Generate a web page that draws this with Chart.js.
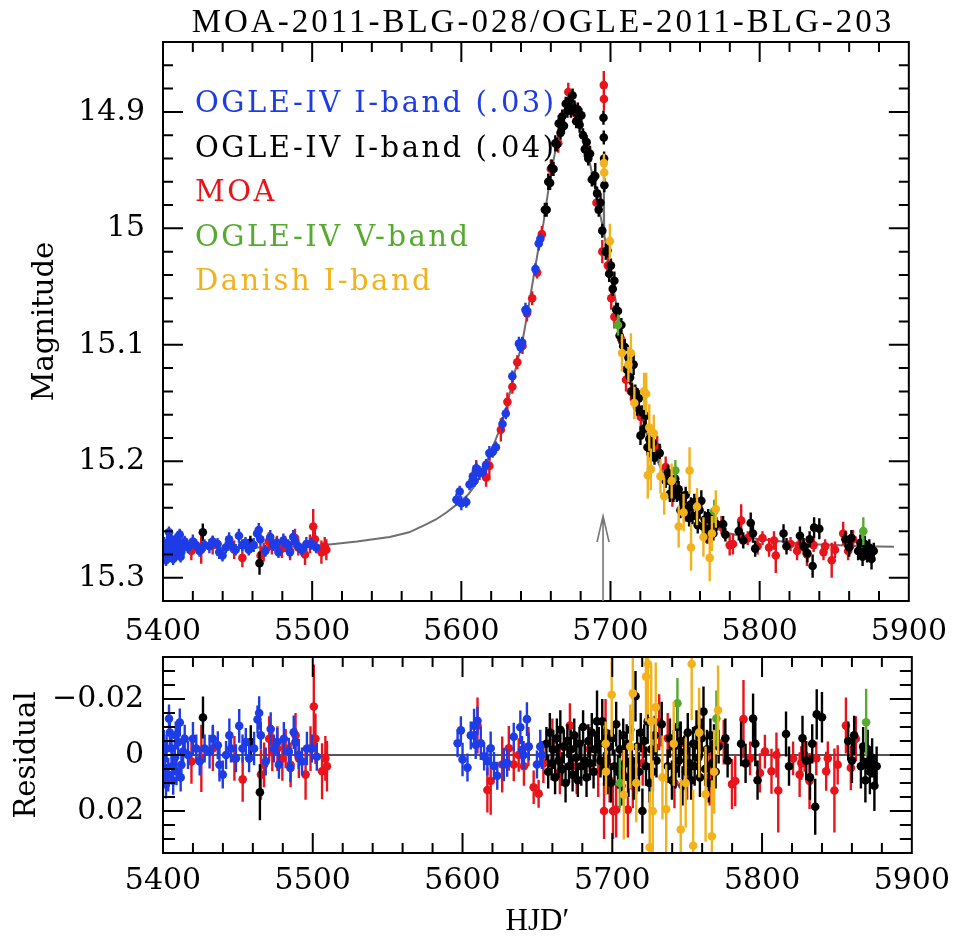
<!DOCTYPE html>
<html lang="en">
<head>
    <meta charset="UTF-8">
    <title>MOA-2011-BLG-028/OGLE-2011-BLG-203</title>
    <style>
        body {
            margin: 0;
            background: #fff;
        }

        .wrap {
            position: relative;
            width: 960px;
            height: 937px;
        }

        #lcChart { position: absolute; left: 0; top: 0; }
        #resChart { position: absolute; left: 0; top: 620px; }
    </style>
</head>
<body>
    <div class="wrap">
        <canvas id="lcChart" width="960" height="648"></canvas>
        <canvas id="resChart" width="960" height="317"></canvas>
    </div>

    <script src="https://cdn.jsdelivr.net/npm/chart.js"></script>
    <script>
        // rows: [HJD', magnitude, error, residual]
        const ogleI03 = [
            [5400.6, 15.270, 0.005, -0.0040], [5401.3, 15.279, 0.006, 0.0046], [5402.0, 15.285, 0.005, 0.0105],
            [5402.4, 15.272, 0.005, -0.0023], [5403.5, 15.281, 0.006, 0.0070], [5404.0, 15.261, 0.005, -0.0130],
            [5404.6, 15.266, 0.005, -0.0080], [5405.7, 15.272, 0.006, -0.0023], [5406.2, 15.278, 0.005, 0.0040],
            [5406.8, 15.284, 0.005, 0.0092], [5407.9, 15.275, 0.006, 0.0010], [5408.5, 15.267, 0.005, -0.0070],
            [5409.0, 15.280, 0.005, 0.0058], [5410.1, 15.270, 0.006, -0.0046], [5411.2, 15.263, 0.005, -0.0116],
            [5411.8, 15.282, 0.005, 0.0080], [5412.3, 15.278, 0.005, 0.0035], [5413.4, 15.273, 0.006, -0.0012],
            [5414.5, 15.269, 0.005, -0.0058], [5416.7, 15.274, 0.005, 0.0000], [5420.0, 15.269, 0.006, -0.0058],
            [5422.2, 15.272, 0.005, -0.0023], [5424.5, 15.277, 0.005, 0.0023], [5427.8, 15.272, 0.005, -0.0023],
            [5431.1, 15.273, 0.006, -0.0012], [5433.3, 15.269, 0.005, -0.0058], [5436.6, 15.271, 0.005, -0.0035],
            [5437.7, 15.278, 0.006, 0.0035], [5439.9, 15.281, 0.005, 0.0070], [5442.1, 15.274, 0.005, 0.0000],
            [5444.3, 15.267, 0.006, -0.0070], [5445.4, 15.272, 0.005, -0.0023], [5448.7, 15.276, 0.005, 0.0012],
            [5450.9, 15.264, 0.006, -0.0104], [5453.1, 15.272, 0.005, -0.0023], [5455.3, 15.270, 0.005, -0.0046],
            [5457.5, 15.276, 0.005, 0.0012], [5460.8, 15.272, 0.006, -0.0023], [5463.1, 15.262, 0.005, -0.0127],
            [5464.2, 15.259, 0.006, -0.0150], [5465.3, 15.267, 0.005, -0.0070], [5468.6, 15.277, 0.005, 0.0023],
            [5471.9, 15.265, 0.006, -0.0093], [5474.1, 15.272, 0.005, -0.0023], [5476.3, 15.270, 0.005, -0.0046],
            [5477.4, 15.278, 0.005, 0.0035], [5480.7, 15.268, 0.006, -0.0058], [5484.0, 15.272, 0.005, -0.0012],
            [5485.1, 15.278, 0.005, 0.0046], [5487.3, 15.265, 0.006, -0.0081], [5488.4, 15.269, 0.005, -0.0046],
            [5490.6, 15.273, 0.005, 0.0000], [5492.8, 15.276, 0.005, 0.0023], [5496.1, 15.271, 0.006, -0.0023],
            [5499.4, 15.271, 0.005, -0.0023], [5502.7, 15.274, 0.005, 0.0006],
            [5596.7, 15.233, 0.005, -0.0042], [5598.9, 15.226, 0.005, -0.0088], [5600.0, 15.236, 0.006, 0.0016],
            [5603.3, 15.235, 0.005, 0.0045], [5605.5, 15.220, 0.005, -0.0070], [5607.7, 15.213, 0.006, -0.0105],
            [5608.8, 15.217, 0.005, -0.0036], [5610.0, 15.206, 0.005, -0.0122], [5612.2, 15.210, 0.006, -0.0042],
            [5614.4, 15.209, 0.005, 0.0005], [5616.6, 15.203, 0.005, 0.0022], [5618.8, 15.193, 0.006, -0.0024],
            [5621.0, 15.192, 0.005, 0.0039], [5623.2, 15.188, 0.005, 0.0074], [5627.6, 15.168, 0.006, 0.0034],
            [5629.8, 15.159, 0.005, 0.0028], [5634.2, 15.127, 0.005, -0.0065], [5638.6, 15.099, 0.006, -0.0099],
            [5639.7, 15.102, 0.005, -0.0018], [5640.8, 15.098, 0.005, 0.0000], [5643.0, 15.070, 0.006, -0.0128],
            [5644.2, 15.071, 0.005, -0.0030], [5649.7, 15.035, 0.005, 0.0034], [5651.9, 15.013, 0.006, -0.0030],
            [5653.0, 15.009, 0.005, 0.0000]
        ];

        const ogleI04 = [
            [5426.7, 15.261, 0.0075, -0.0134], [5458.6, 15.270, 0.006, -0.0046], [5464.7, 15.2875, 0.010, 0.0133],
            [5656.0, 14.984, 0.006, -0.004], [5657.2, 14.984, 0.006, 0.006], [5658.3, 14.960, 0.007, -0.008],
            [5659.5, 14.961, 0.006, 0.003], [5660.6, 14.948, 0.007, -0.002], [5661.8, 14.949, 0.006, 0.008],
            [5663.0, 14.927, 0.007, -0.006], [5664.1, 14.928, 0.006, 0.002], [5665.3, 14.910, 0.007, -0.009],
            [5666.5, 14.918, 0.006, 0.005], [5667.6, 14.904, 0.006, -0.003], [5668.8, 14.912, 0.007, 0.010],
            [5670.0, 14.893, 0.006, -0.005], [5671.1, 14.899, 0.006, 0.004], [5672.3, 14.891, 0.007, -0.002],
            [5673.5, 14.899, 0.006, 0.007], [5674.6, 14.886, 0.006, -0.007], [5675.8, 14.897, 0.007, 0.001],
            [5677.0, 14.908, 0.006, 0.009], [5678.1, 14.898, 0.006, -0.004], [5679.3, 14.911, 0.007, 0.004],
            [5680.5, 14.903, 0.006, -0.010], [5681.6, 14.920, 0.006, 0.002], [5682.8, 14.932, 0.007, 0.008],
            [5684.0, 14.926, 0.006, -0.005], [5685.1, 14.940, 0.006, 0.003], [5686.3, 14.936, 0.007, -0.008],
            [5687.5, 14.958, 0.006, 0.006], [5688.6, 14.957, 0.006, -0.002], [5689.8, 14.955, 0.011, -0.012],
            [5691.0, 14.970, 0.006, -0.004], [5692.1, 14.984, 0.006, 0.002], [5693.3, 14.978, 0.008, -0.012],
            [5694.5, 15.002, 0.006, 0.005], [5695.3, 14.905, 0.006, -0.004], [5695.5, 14.922, 0.006, 0.003],
            [5695.7, 14.940, 0.006, -0.006], [5695.9, 14.963, 0.006, 0.002], [5696.8, 15.020, 0.007, 0.007],
            [5698.0, 15.019, 0.006, -0.003], [5699.1, 15.039, 0.007, 0.010], [5700.3, 15.032, 0.006, -0.006],
            [5701.5, 15.052, 0.006, 0.004], [5702.6, 15.045, 0.008, -0.011], [5703.8, 15.070, 0.006, 0.006],
            [5705.0, 15.071, 0.007, -0.002], [5706.1, 15.092, 0.007, 0.011], [5707.3, 15.083, 0.006, -0.007],
            [5708.5, 15.101, 0.006, 0.003], [5709.6, 15.102, 0.007, -0.004], [5710.8, 15.121, 0.007, 0.008],
            [5712.0, 15.111, 0.007, -0.009], [5713.1, 15.128, 0.006, 0.002], [5714.3, 15.140, 0.007, 0.009],
            [5715.5, 15.117, 0.009, -0.021], [5716.6, 15.140, 0.006, -0.003], [5717.8, 15.154, 0.007, 0.006],
            [5719.0, 15.146, 0.007, -0.008], [5720.1, 15.178, 0.008, 0.020], [5721.3, 15.158, 0.006, -0.005],
            [5722.5, 15.172, 0.007, 0.004], [5723.6, 15.161, 0.008, -0.012], [5724.8, 15.188, 0.007, 0.010],
            [5726.0, 15.181, 0.006, -0.002], [5727.1, 15.193, 0.007, 0.006], [5728.3, 15.184, 0.007, -0.007],
            [5729.5, 15.197, 0.006, 0.002], [5733.0, 15.193, 0.008, -0.011], [5737.0, 15.217, 0.006, 0.004],
            [5738.5, 15.210, 0.007, -0.006], [5739.8, 15.228, 0.007, 0.009], [5741.0, 15.218, 0.006, -0.003],
            [5742.2, 15.228, 0.007, 0.005], [5743.4, 15.215, 0.008, -0.010], [5744.5, 15.229, 0.006, 0.002],
            [5745.7, 15.224, 0.007, -0.005], [5746.9, 15.242, 0.007, 0.011], [5748.0, 15.232, 0.006, -0.001],
            [5749.2, 15.241, 0.007, 0.006], [5750.4, 15.229, 0.007, -0.008], [5751.5, 15.241, 0.006, 0.003],
            [5752.7, 15.249, 0.007, 0.009], [5753.9, 15.237, 0.006, -0.004], [5755.0, 15.247, 0.007, 0.004],
            [5756.2, 15.235, 0.007, -0.009], [5757.4, 15.247, 0.006, 0.001], [5758.5, 15.255, 0.007, 0.008],
            [5759.7, 15.242, 0.007, -0.006], [5760.9, 15.234, 0.009, -0.0155], [5762.0, 15.256, 0.006, 0.005],
            [5763.2, 15.250, 0.007, -0.002], [5764.4, 15.263, 0.007, 0.010], [5765.5, 15.247, 0.006, -0.007],
            [5766.7, 15.258, 0.007, 0.003], [5767.9, 15.252, 0.007, -0.004], [5769.0, 15.262, 0.006, 0.006],
            [5771.0, 15.254, 0.006, -0.003], [5775.5, 15.254, 0.007, -0.006], [5777.0, 15.263, 0.006, 0.002],
            [5786.0, 15.260, 0.008, -0.004], [5789.0, 15.268, 0.007, 0.003], [5794.0, 15.253, 0.009, -0.013],
            [5795.5, 15.262, 0.008, -0.004], [5797.0, 15.275, 0.007, 0.009], [5816.0, 15.262, 0.008, -0.0075],
            [5818.0, 15.273, 0.007, 0.004], [5827.0, 15.264, 0.008, -0.006], [5829.5, 15.273, 0.007, 0.002],
            [5832.0, 15.279, 0.008, 0.008], [5833.5, 15.267, 0.007, -0.004], [5835.5, 15.290, 0.010, 0.0185],
            [5836.5, 15.257, 0.009, -0.0145], [5840.0, 15.258, 0.009, -0.0135], [5857.5, 15.267, 0.007, -0.005],
            [5860.0, 15.274, 0.008, 0.002], [5861.5, 15.266, 0.007, -0.007], [5866.0, 15.277, 0.008, 0.004],
            [5867.5, 15.270, 0.007, -0.003], [5869.0, 15.282, 0.008, 0.009], [5870.5, 15.271, 0.007, -0.002],
            [5872.0, 15.279, 0.008, 0.006], [5873.5, 15.274, 0.007, 0.001], [5875.0, 15.284, 0.009, 0.011],
            [5876.5, 15.277, 0.007, 0.004]
        ];

        const moa = [
            [5419.0, 15.277, 0.008, 0.0023], [5425.6, 15.276, 0.012, 0.0012], [5433.3, 15.272, 0.008, -0.0023],
            [5447.7, 15.276, 0.008, 0.0012], [5453.2, 15.283, 0.008, 0.0087], [5465.4, 15.281, 0.009, 0.0070],
            [5467.5, 15.278, 0.008, 0.0035], [5470.9, 15.269, 0.008, -0.0058], [5473.0, 15.273, 0.007, -0.0012],
            [5476.4, 15.272, 0.008, -0.0023], [5479.7, 15.275, 0.008, 0.0012], [5481.9, 15.271, 0.007, -0.0023],
            [5485.2, 15.277, 0.008, 0.0035], [5488.5, 15.266, 0.008, -0.0070], [5490.7, 15.274, 0.007, 0.0012],
            [5495.2, 15.280, 0.009, 0.0070], [5498.5, 15.271, 0.008, -0.0023], [5500.7, 15.256, 0.015, -0.0173],
            [5501.8, 15.267, 0.009, -0.0058], [5506.2, 15.278, 0.010, 0.0058], [5508.4, 15.273, 0.008, 0.0012],
            [5509.5, 15.276, 0.009, 0.0040],
            [5610.0, 15.209, 0.010, -0.0105], [5616.6, 15.214, 0.008, 0.0125], [5618.8, 15.204, 0.012, 0.0093],
            [5626.5, 15.173, 0.010, 0.0034], [5630.9, 15.149, 0.008, -0.0024], [5634.2, 15.136, 0.006, 0.0034],
            [5637.5, 15.115, 0.006, 0.0000], [5641.0, 15.101, 0.007, 0.0040], [5644.0, 15.073, 0.007, -0.0030],
            [5647.5, 15.060, 0.006, 0.0115], [5650.8, 15.038, 0.005, 0.0138], [5654.0, 15.005, 0.007, 0.0030],
            [5660.0, 14.949, 0.008, -0.0050], [5665.0, 14.927, 0.008, 0.0060], [5671.7, 14.883, 0.008, -0.0105],
            [5676.2, 14.901, 0.010, 0.0040], [5685.0, 14.935, 0.008, -0.0020], [5690.6, 14.978, 0.009, 0.0060],
            [5694.5, 15.020, 0.010, 0.0200], [5695.5, 14.877, 0.012, -0.0080], [5695.6, 14.889, 0.010, 0.0040],
            [5698.2, 15.032, 0.008, 0.0090], [5700.5, 15.060, 0.010, 0.0200], [5702.6, 15.076, 0.010, 0.0195],
            [5707.1, 15.095, 0.008, 0.0070], [5710.4, 15.130, 0.010, 0.0195], [5713.7, 15.140, 0.008, 0.0110],
            [5716.0, 15.146, 0.008, 0.0060], [5720.3, 15.162, 0.008, 0.0030], [5731.3, 15.188, 0.010, -0.0117],
            [5737.0, 15.205, 0.009, -0.0060], [5741.5, 15.230, 0.009, 0.0100], [5745.0, 15.224, 0.008, -0.0040],
            [5750.0, 15.242, 0.010, 0.0060], [5758.0, 15.238, 0.008, -0.0093], [5765.0, 15.261, 0.010, 0.0080],
            [5774.4, 15.255, 0.008, -0.0046], [5779.9, 15.272, 0.009, 0.0104], [5782.1, 15.271, 0.009, 0.0093],
            [5787.6, 15.251, 0.014, -0.0128], [5792.0, 15.266, 0.006, 0.0012], [5798.6, 15.273, 0.007, 0.0064],
            [5801.9, 15.266, 0.006, -0.0012], [5806.3, 15.274, 0.008, 0.0058], [5809.6, 15.268, 0.008, 0.0000],
            [5810.8, 15.281, 0.015, 0.0127], [5820.7, 15.271, 0.006, 0.0012], [5825.1, 15.277, 0.008, 0.0070],
            [5826.2, 15.273, 0.006, 0.0029], [5828.4, 15.271, 0.006, 0.0000], [5831.7, 15.280, 0.010, 0.0093],
            [5836.2, 15.272, 0.006, 0.0012], [5842.8, 15.278, 0.007, 0.0058], [5843.9, 15.273, 0.006, 0.0012],
            [5848.3, 15.285, 0.015, 0.0127], [5850.5, 15.276, 0.007, 0.0035], [5856.0, 15.262, 0.010, -0.0105],
            [5859.3, 15.277, 0.008, 0.0046], [5862.6, 15.267, 0.008, -0.0058]
        ];

        const ogleV = [
            [5705.0, 15.083, 0.009, 0.0100], [5743.5, 15.208, 0.009, -0.0185],
            [5769.5, 15.243, 0.010, -0.0130], [5869.5, 15.260, 0.012, -0.0117]
        ];

        const danishI = [
            [5695.6, 14.944, 0.008, -0.0040], [5695.8, 14.952, 0.008, 0.0060], [5699.6, 15.011, 0.015, -0.0215],
            [5707.7, 15.107, 0.016, 0.0142], [5712.0, 15.117, 0.015, -0.0030], [5713.7, 15.107, 0.017, -0.0220],
            [5716.0, 15.150, 0.014, 0.0100], [5722.5, 15.140, 0.016, -0.0280], [5723.9, 15.142, 0.018, -0.0325],
            [5725.0, 15.212, 0.020, 0.0330], [5726.0, 15.171, 0.020, -0.0120], [5727.0, 15.207, 0.018, 0.0200],
            [5729.0, 15.176, 0.016, -0.0170], [5733.5, 15.213, 0.015, 0.0080], [5736.0, 15.230, 0.016, 0.0194],
            [5741.0, 15.217, 0.015, -0.0040], [5745.7, 15.256, 0.018, 0.0266], [5749.0, 15.244, 0.016, 0.0100],
            [5753.0, 15.208, 0.020, -0.0325], [5754.0, 15.274, 0.020, 0.0324], [5758.0, 15.239, 0.016, -0.0080],
            [5762.3, 15.265, 0.017, 0.0140], [5766.5, 15.283, 0.020, 0.0290], [5768.0, 15.262, 0.015, 0.0060],
            [5770.6, 15.241, 0.016, -0.0160]
        ];

        // best-fit model curve
        const modelT = [5400, 5450, 5480, 5500, 5510, 5530, 5552, 5565, 5575, 5583, 5590, 5597, 5600, 5605,
            5610, 5615, 5620, 5625, 5630, 5635, 5638, 5641, 5645, 5648, 5652, 5655, 5658, 5661, 5664, 5667,
            5670, 5673, 5676, 5679, 5682, 5685, 5688, 5690, 5692, 5694, 5695.2, 5695.5, 5695.8, 5696, 5698,
            5700, 5702, 5704, 5706, 5708, 5710, 5712, 5714, 5716, 5718, 5720, 5722, 5724, 5726, 5728, 5730,
            5733, 5736, 5740, 5745, 5750, 5755, 5760, 5765, 5770, 5775, 5780, 5790, 5800, 5815, 5830, 5850,
            5870, 5890];
        const modelMag = [15.2745, 15.2742, 15.2736, 15.2728, 15.2716, 15.2690, 15.2650, 15.2610, 15.2550,
            15.2500, 15.2440, 15.2370, 15.2340, 15.2280, 15.2190, 15.2060, 15.1910, 15.1750, 15.1550, 15.1280,
            15.1120, 15.0970, 15.0680, 15.0450, 15.0150, 14.9960, 14.9700, 14.9470, 14.9270, 14.9100, 14.8980,
            14.8920, 14.8960, 14.9060, 14.9200, 14.9370, 14.9550, 14.9680, 14.9810, 14.9940, 15.0010, 14.9480,
            15.0040, 15.0070, 15.0220, 15.0360, 15.0520, 15.0660, 15.0800, 15.0950, 15.1080, 15.1200, 15.1300,
            15.1400, 15.1490, 15.1580, 15.1660, 15.1750, 15.1830, 15.1900, 15.1960, 15.2040, 15.2110, 15.2190,
            15.2280, 15.2360, 15.2430, 15.2490, 15.2530, 15.2570, 15.2600, 15.2620, 15.2650, 15.2670, 15.2690,
            15.2710, 15.2720, 15.2730, 15.2735];

        const anomalyT = 5695;
        const arrowTipMag = 15.247;

        const xTicks = [5400, 5500, 5600, 5700, 5800, 5900];
        const xTickLabels = ['5400', '5500', '5600', '5700', '5800', '5900'];
        const magTicks = [14.9, 15.0, 15.1, 15.2, 15.3];
        const magTickLabels = ['14.9', '15', '15.1', '15.2', '15.3'];
        const resTicks = [-0.02, 0, 0.02];
        const resTickLabels = ['\u22120.02', '0', '0.02'];

        const legendLabels = ['OGLE-IV I-band (.03)', 'OGLE-IV I-band (.04)', 'MOA', 'OGLE-IV V-band', 'Danish I-band'];
        const legendColors = ['#1e3ce6', '#000000', '#e8141c', '#56ab2f', '#f2b21b'];

        const tickFont = { family: "'DejaVu Serif'", size: 30, lineHeight: 1.2 };

        // first listed is drawn on top
        const series = [
            { rows: danishI, color: '#f2b21b', label: 'Danish I-band' },
            { rows: ogleV, color: '#56ab2f', label: 'OGLE-IV V-band' },
            { rows: ogleI03, color: '#1e3ce6', label: 'OGLE-IV I-band (.03)' },
            { rows: ogleI04, color: '#000000', label: 'OGLE-IV I-band (.04)' },
            { rows: moa, color: '#e8141c', label: 'MOA' }
        ];

        function pointSets(col) {
            return series.map(s => ({
                label: s.label,
                data: s.rows.map(r => ({ x: r[0], y: r[col] })),
                errs: s.rows.map(r => r[2]),
                backgroundColor: s.color,
                borderColor: s.color,
                pointRadius: 4.3,
                pointBorderWidth: 0,
                pointHoverRadius: 4.3
            }));
        }

        // vertical error bars, drawn right before each dataset's points
        const errorBars = {
            id: 'errorBars',
            beforeDatasetDraw(chart, args) {
                const ds = chart.data.datasets[args.index];
                if (!ds.errs) return;
                const { ctx, chartArea: a } = chart;
                const xs = chart.scales.x, ys = chart.scales.y;
                ctx.save();
                ctx.beginPath();
                ctx.rect(a.left, a.top, a.right - a.left, a.bottom - a.top);
                ctx.clip();
                ctx.strokeStyle = ds.borderColor;
                ctx.lineWidth = 2.4;
                ctx.beginPath();
                ds.data.forEach((p, i) => {
                    const px = xs.getPixelForValue(p.x);
                    ctx.moveTo(px, ys.getPixelForValue(p.y - ds.errs[i]));
                    ctx.lineTo(px, ys.getPixelForValue(p.y + ds.errs[i]));
                });
                ctx.stroke();
                ctx.restore();
            }
        };

        // box with inward ticks on all four sides
        function drawFrame(chart, yMinor, yMajor, yLen) {
            const { ctx, chartArea: a } = chart;
            const xs = chart.scales.x, ys = chart.scales.y;
            ctx.save();
            ctx.strokeStyle = '#000';
            ctx.lineWidth = 2;
            ctx.beginPath();
            for (let v = 5420; v < 5900; v += 20) {
                const px = xs.getPixelForValue(v);
                const len = v % 100 === 0 ? 20 : 10;
                ctx.moveTo(px, a.bottom); ctx.lineTo(px, a.bottom - len);
                ctx.moveTo(px, a.top); ctx.lineTo(px, a.top + len);
            }
            yMinor.forEach(v => {
                const py = ys.getPixelForValue(v);
                const len = yMajor.includes(v) ? yLen[0] : yLen[1];
                ctx.moveTo(a.left, py); ctx.lineTo(a.left + len, py);
                ctx.moveTo(a.right, py); ctx.lineTo(a.right - len, py);
            });
            ctx.stroke();
            ctx.strokeRect(a.left, a.top, a.right - a.left, a.bottom - a.top);
            ctx.restore();
        }

        const magMinor = [];
        for (let k = 1486; k <= 1530; k += 2) magMinor.push(k / 100);
        const resMinor = [];
        for (let k = -30; k <= 30; k += 5) resMinor.push(k / 1000);

        const lcFrame = {
            id: 'lcFrame',
            afterDraw(chart) {
                drawFrame(chart, magMinor, magTicks, [20, 10]);
                const { ctx } = chart;
                const xs = chart.scales.x, ys = chart.scales.y;

                // arrow marking the anomaly
                const ax = xs.getPixelForValue(anomalyT);
                const yb = ys.getPixelForValue(ys.max);
                const yt = ys.getPixelForValue(arrowTipMag);
                ctx.save();
                ctx.strokeStyle = '#777';
                ctx.lineWidth = 1.6;
                ctx.beginPath();
                ctx.moveTo(ax, yb); ctx.lineTo(ax, yt);
                ctx.moveTo(ax - 6, yt + 26); ctx.lineTo(ax, yt); ctx.lineTo(ax + 6, yt + 26);
                ctx.stroke();

                // title
                ctx.fillStyle = '#000';
                ctx.font = '33px "Liberation Serif"';
                ctx.letterSpacing = '3px';
                ctx.textAlign = 'center';
                ctx.textBaseline = 'alphabetic';
                ctx.fillText('MOA-2011-BLG-028/OGLE-2011-BLG-203', 543, 32);

                // coloured legend text
                ctx.font = '29px "DejaVu Serif"';
                ctx.letterSpacing = '2.5px';
                ctx.textAlign = 'left';
                legendLabels.forEach((t, i) => {
                    ctx.fillStyle = legendColors[i];
                    ctx.fillText(t, 195, 112 + i * 44.6);
                });
                ctx.restore();
            }
        };

        const resFrame = {
            id: 'resFrame',
            afterDraw(chart) {
                drawFrame(chart, resMinor, resTicks, [22, 12]);
            }
        };

        function xScale(pad, height, title) {
            return {
                type: 'linear',
                min: 5400,
                max: 5900,
                afterBuildTicks: s => { s.ticks = xTicks.map(v => ({ value: v })); },
                afterFit: s => { s.height = height; },
                ticks: {
                    callback: v => xTickLabels[xTicks.indexOf(v)],
                    font: tickFont,
                    color: '#000',
                    padding: pad,
                    maxRotation: 0,
                    autoSkip: false
                },
                grid: { display: false, drawTicks: false },
                border: { display: false },
                title: title
            };
        }

        function yScale(min, max, ticks, labels, pad, title, titlePad) {
            return {
                type: 'linear',
                reverse: true,
                min: min,
                max: max,
                afterBuildTicks: s => { s.ticks = ticks.map(v => ({ value: v })); },
                afterFit: s => { s.width = 163; },
                ticks: {
                    callback: v => labels[ticks.indexOf(v)],
                    font: tickFont,
                    color: '#000',
                    padding: pad,
                    autoSkip: false
                },
                grid: { display: false, drawTicks: false },
                border: { display: false },
                title: {
                    display: true,
                    text: title,
                    color: '#000',
                    font: { family: "'DejaVu Serif'", size: 29, lineHeight: 1 },
                    padding: { top: titlePad, bottom: 0 }
                }
            };
        }

        const common = {
            responsive: false,
            animation: false,
            events: [],
            plugins: { legend: { display: false }, tooltip: { enabled: false } }
        };

        const lcChart = new Chart(document.getElementById('lcChart').getContext('2d'), {
            type: 'scatter',
            data: {
                datasets: pointSets(1).concat([{
                    label: 'model',
                    data: modelT.map((t, i) => ({ x: t, y: modelMag[i] })),
                    showLine: true,
                    borderColor: '#6f6f6f',
                    borderWidth: 2,
                    pointRadius: 0
                }])
            },
            options: Object.assign({}, common, {
                layout: { padding: { top: 42, right: 42, left: 0, bottom: 0 } },
                scales: {
                    x: xScale(13, 47, { display: false }),
                    y: yScale(14.84, 15.32, magTicks, magTickLabels, 18, 'Magnitude', 31)
                }
            }),
            plugins: [errorBars, lcFrame]
        });

        const resChart = new Chart(document.getElementById('resChart').getContext('2d'), {
            type: 'scatter',
            data: {
                datasets: pointSets(3).concat([{
                    label: 'zero',
                    data: [{ x: 5400, y: 0 }, { x: 5900, y: 0 }],
                    showLine: true,
                    borderColor: '#555',
                    borderWidth: 2,
                    pointRadius: 0
                }])
            },
            options: Object.assign({}, common, {
                layout: { padding: { top: 31, right: 42, left: 0, bottom: 0 } },
                scales: {
                    x: xScale(10, 84, {
                        display: true,
                        text: 'HJD\u2032',
                        color: '#000',
                        font: { family: "'Liberation Serif'", size: 31, lineHeight: 1 },
                        padding: { top: 0, bottom: 0 }
                    }),
                    y: yScale(-0.035, 0.035, resTicks, resTickLabels, 19, 'Residual', 13)
                }
            }),
            plugins: [errorBars, resFrame]
        });
    </script>
</body>
</html>
